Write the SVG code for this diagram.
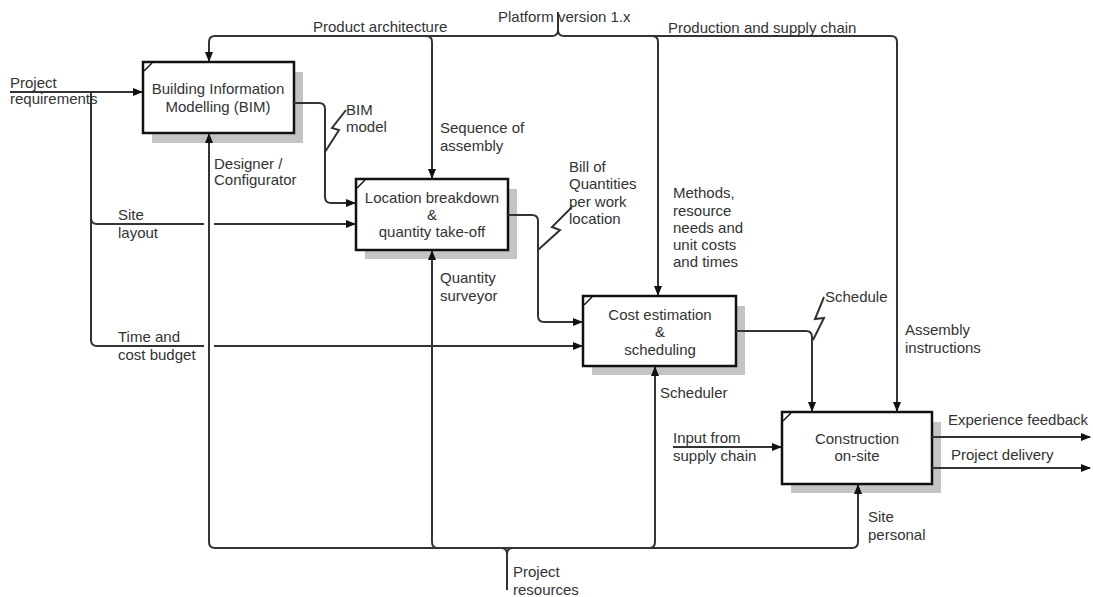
<svg xmlns="http://www.w3.org/2000/svg" width="1093" height="597" viewBox="0 0 1093 597">
<defs>
<marker id="ah" markerWidth="10" markerHeight="8" refX="9" refY="4" orient="auto" markerUnits="userSpaceOnUse">
<path d="M0,0 L10,4 L0,8 Z" fill="#111"/>
</marker>
<style>
.t{font-family:"Liberation Sans",Arial,sans-serif;font-size:15px;fill:#333}
.c{text-anchor:middle}
.box{fill:#fff;stroke:#111;stroke-width:2.5}
.sh{fill:#c4c4c4}
.ln{fill:none;stroke:#333;stroke-width:2}
.ar{fill:none;stroke:#333;stroke-width:2;marker-end:url(#ah)}
.tick{stroke:#111;stroke-width:1.5}
</style>
</defs>
<rect width="1093" height="597" fill="#fff"/>

<g id="bim">
<rect class="sh" x="152" y="72" width="151" height="71"/>
<rect class="box" x="143" y="62" width="151" height="71"/>
<line class="tick" x1="144" y1="71" x2="152" y2="63"/>
<text class="t c" x="218" y="94">Building Information</text>
<text class="t c" x="218" y="112">Modelling (BIM)</text>
</g>

<g id="location">
<rect class="sh" x="365" y="189" width="152" height="70"/>
<rect class="box" x="356" y="179" width="152" height="71"/>
<line class="tick" x1="357" y1="188" x2="365" y2="180"/>
<text class="t c" x="432" y="203">Location breakdown</text>
<text class="t c" x="432" y="220">&amp;</text>
<text class="t c" x="432" y="237">quantity take-off</text>
</g>

<g id="cost">
<rect class="sh" x="592" y="306" width="153" height="69"/>
<rect class="box" x="583" y="296" width="153" height="70"/>
<line class="tick" x1="584" y1="305" x2="592" y2="297"/>
<text class="t c" x="660" y="320">Cost estimation</text>
<text class="t c" x="660" y="337">&amp;</text>
<text class="t c" x="660" y="355">scheduling</text>
</g>

<g id="construction">
<rect class="sh" x="791" y="422" width="150" height="71"/>
<rect class="box" x="782" y="412" width="150" height="72"/>
<line class="tick" x1="783" y1="421" x2="791" y2="413"/>
<text class="t c" x="857" y="444">Construction</text>
<text class="t c" x="857" y="461">on-site</text>
</g>

<g id="connectors">
<!-- top bus -->
<path class="ln" d="M558,12 V30"/>
<path class="ar" d="M558,30 Q558,36 552,36 H215 Q209,36 209,42 V61"/>
<path class="ar" d="M426,36 Q432,36 432,42 V178"/>
<path class="ar" d="M558,30 Q558,36 564,36 H891 Q897,36 897,42 V411"/>
<path class="ar" d="M652,36 Q658,36 658,42 V295"/>
<!-- inputs -->
<path class="ar" d="M10,92 H142"/>
<path class="ln" d="M91,92 V340 Q91,346 97,346 H204"/>
<path class="ar" d="M214,346 H582"/>
<path class="ln" d="M91,218 Q91,224 97,224 H204"/>
<path class="ar" d="M214,224 H355"/>
<!-- BIM -> Location -->
<path class="ar" d="M294,103 H319 Q325,103 325,109 V197 Q325,203 331,203 H355"/>
<!-- Location -> Cost -->
<path class="ar" d="M508,215 H532 Q538,215 538,221 V316 Q538,322 544,322 H582"/>
<!-- Cost -> Construction -->
<path class="ar" d="M736,331 H806 Q812,331 812,337 V411"/>
<!-- bottom bus -->
<path class="ar" d="M209,542 Q209,548 215,548 H852 Q858,548 858,542 V485"/>
<path class="ar" d="M209,542 V134"/>
<path class="ln" d="M432,542 Q432,548 438,548"/>
<path class="ar" d="M432,542 V251"/>
<path class="ln" d="M655,542 Q655,548 649,548"/>
<path class="ar" d="M655,542 V367"/>
<path class="ln" d="M507,590 V554 Q507,548 501,548 M507,554 Q507,548 513,548"/>
<!-- Construction in/out -->
<path class="ar" d="M673,447 H781"/>
<path class="ar" d="M932,437 H1090"/>
<path class="ar" d="M932,468 H1090"/>
<!-- squiggles -->
<path class="ln" d="M346,110 L332,128 L339,130 L325,152"/>
<path class="ln" d="M572,207 L552,227 L560,230 L538,250"/>
<path class="ln" d="M824,297 L815,319 L824,318 L813,340"/>
</g>

<g id="labels">
<text class="t" x="313" y="32">Product architecture</text>
<text class="t" x="498" y="22">Platform version 1.x</text>
<text class="t" x="668" y="33">Production and supply chain</text>
<text class="t" x="10" y="88">Project</text>
<text class="t" x="10" y="104">requirements</text>
<text class="t" x="346" y="115">BIM</text>
<text class="t" x="346" y="132">model</text>
<text class="t" x="214" y="169">Designer /</text>
<text class="t" x="214" y="185">Configurator</text>
<text class="t" x="440" y="133">Sequence of</text>
<text class="t" x="440" y="151">assembly</text>
<text class="t" x="569" y="172">Bill of</text>
<text class="t" x="569" y="189">Quantities</text>
<text class="t" x="569" y="207">per work</text>
<text class="t" x="569" y="224">location</text>
<text class="t" x="118" y="220">Site</text>
<text class="t" x="118" y="238">layout</text>
<text class="t" x="673" y="198">Methods,</text>
<text class="t" x="673" y="216">resource</text>
<text class="t" x="673" y="233">needs and</text>
<text class="t" x="673" y="250">unit costs</text>
<text class="t" x="673" y="267">and times</text>
<text class="t" x="440" y="283">Quantity</text>
<text class="t" x="440" y="301">surveyor</text>
<text class="t" x="825" y="302">Schedule</text>
<text class="t" x="905" y="335">Assembly</text>
<text class="t" x="905" y="353">instructions</text>
<text class="t" x="118" y="342">Time and</text>
<text class="t" x="118" y="360">cost budget</text>
<text class="t" x="660" y="398">Scheduler</text>
<text class="t" x="673" y="443">Input from</text>
<text class="t" x="673" y="461">supply chain</text>
<text class="t" x="948" y="425">Experience feedback</text>
<text class="t" x="951" y="460">Project delivery</text>
<text class="t" x="868" y="522">Site</text>
<text class="t" x="868" y="540">personal</text>
<text class="t" x="513" y="577">Project</text>
<text class="t" x="513" y="595">resources</text>
</g>
</svg>
